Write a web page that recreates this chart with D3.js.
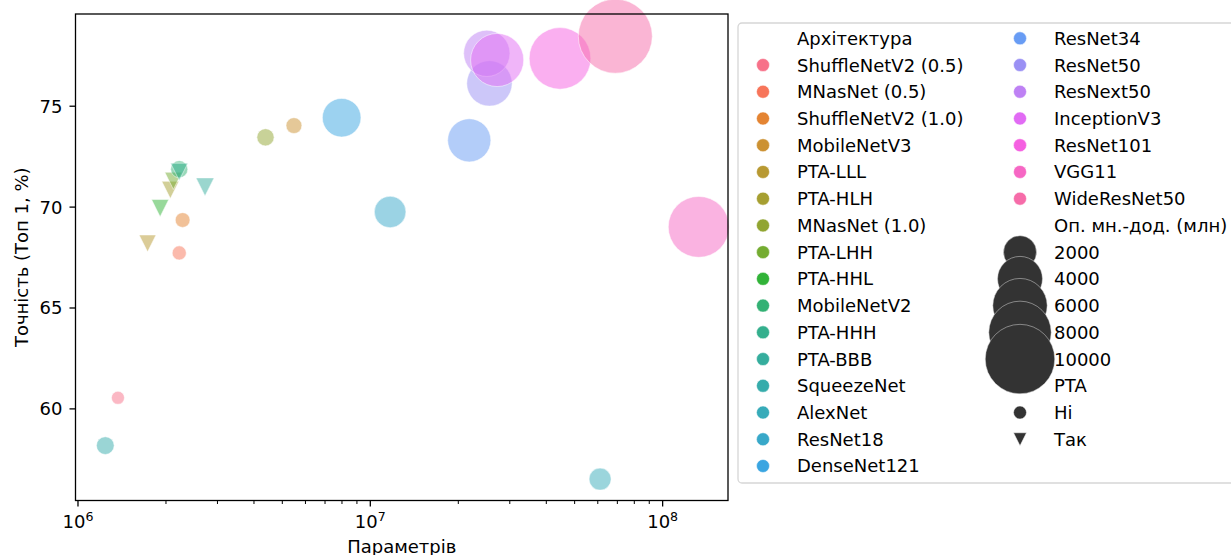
<!DOCTYPE html>
<html>
<head>
<meta charset="utf-8">
<script src="https://cdn.jsdelivr.net/npm/d3@7"></script>
<style>
  body { margin: 0; background: #fff; }
  svg { display: block; font-family: "DejaVu Sans", sans-serif; }
</style>
</head>
<body>
<script>
// architectures, in the order seaborn met them (hue order)
const names = ["ShuffleNetV2 (0.5)", "MNasNet (0.5)", "ShuffleNetV2 (1.0)", "MobileNetV3",
  "PTA-LLL", "PTA-HLH", "MNasNet (1.0)", "PTA-LHH", "PTA-HHL", "MobileNetV2", "PTA-HHH",
  "PTA-BBB", "SqueezeNet", "AlexNet", "ResNet18", "DenseNet121", "ResNet34", "ResNet50",
  "ResNext50", "InceptionV3", "ResNet101", "VGG11", "WideResNet50"];
const params = [1.37e6, 2.22e6, 2.28e6, 5.48e6, 1.73e6, 2.07e6, 4.38e6, 2.12e6, 1.91e6, 2.22e6,
  2.22e6, 2.72e6, 1.24e6, 61.1e6, 11.69e6, 7.98e6, 21.8e6, 25.56e6, 25.03e6, 27.16e6, 44.55e6,
  132.86e6, 68.88e6];
const accuracy = [60.55, 67.73, 69.36, 74.04, 68.2, 70.85, 73.46, 71.3, 69.95, 71.88, 71.75,
  71.0, 58.18, 56.52, 69.76, 74.43, 73.31, 76.13, 77.62, 77.29, 77.37, 69.02, 78.47];
const macs = [41, 104, 146, 217, 290, 310, 312, 310, 310, 300, 320, 380, 350, 714, 1814, 2865,
  3664, 4089, 4260, 5713, 7801, 7609, 11398];
const isPTA = names.map(n => n.startsWith("PTA"));

const sizeTicks = [2000, 4000, 6000, 8000, 10000];
const styleLabels = ["Ні", "Так"];
const xTicks = [6, 7, 8];
const yTicks = [60, 65, 70, 75];

// husl palette, like seaborn's husl_palette(n, h=.01, s=.9, l=.65)
const M = [[3.240969941904521, -1.537383177570093, -0.498610760293],
           [-0.96924363628087, 1.87596750150772, 0.041555057407175],
           [0.055630079696993, -0.20397695888897, 1.056971514242878]];
const refU = 0.19783000664283, refV = 0.46831999493879, kappa = 903.2962962, eps = 0.0088564516;
function bounds(L) {
  const res = [];
  const sub1 = Math.pow(L + 16, 3) / 1560896, sub2 = sub1 > eps ? sub1 : L / kappa;
  for (const [m1, m2, m3] of M) {
    for (const t of [0, 1]) {
      const top1 = (284517 * m1 - 94839 * m3) * sub2;
      const top2 = (838422 * m3 + 769860 * m2 + 731718 * m1) * L * sub2 - 769860 * t * L;
      const bottom = (632260 * m3 - 126452 * m2) * sub2 + 126452 * t;
      res.push([top1 / bottom, top2 / bottom]);
    }
  }
  return res;
}
function husl(H, S, L) {
  const h = H / 360 * 2 * Math.PI;
  let max = Infinity;
  bounds(L).forEach(([s, i]) => {
    const len = i / (Math.sin(h) - s * Math.cos(h));
    if (len >= 0) max = Math.min(max, len);
  });
  const C = max / 100 * S, U = Math.cos(h) * C, V = Math.sin(h) * C;
  const Y = L <= 8 ? L / kappa : Math.pow((L + 16) / 116, 3);
  const vU = U / (13 * L) + refU, vV = V / (13 * L) + refV;
  const X = -(9 * Y * vU) / ((vU - 4) * vV - vU * vV);
  const Z = (9 * Y - 15 * vV * Y - vV * X) / (3 * vV);
  const f = c => c <= 0.0031308 ? 12.92 * c : 1.055 * Math.pow(c, 1 / 2.4) - 0.055;
  const rgb = M.map(r => Math.max(0, Math.min(1, f(r[0] * X + r[1] * Y + r[2] * Z))) * 255);
  return d3.rgb(...rgb).formatHex();
}
const palette = names.map((d, i) => husl(((i / names.length + 0.01) % 1) * 359, 89.1, 64.35));
const color = d3.scaleOrdinal().domain(names).range(palette);

const W = 1231, H = 555;
const plot = {left: 75.5, right: 728, top: 14, bottom: 500.5};
const fontSize = 18, alpha = 0.5;

const svg = d3.select("body").append("svg").attr("width", W).attr("height", H);

const x = d3.scaleLog().domain([Math.pow(10, 5.9915), Math.pow(10, 8.2236)]).range([plot.left, plot.right]);
const y = d3.scaleLinear().domain([55.46, 79.57]).range([plot.bottom, plot.top]);
// marker area (px^2) linear in MACs, as seaborn's size mapping
const area = d3.scaleLinear().domain(d3.extent(macs)).range([169, 5476]);

const data = names.map((n, i) => ({name: n, p: params[i], acc: accuracy[i], m: macs[i], pta: isPTA[i]}));

function triPath(d) {
  // matplotlib "v": width = height = sqrt(area), centred on bbox
  const h = d / 2;
  return `M${-h},${-h}L${h},${-h}L0,${h}Z`;
}

// points
const pts = svg.append("g");
data.forEach(d => {
  const s = Math.sqrt(area(d.m));
  const g = pts.append("g").attr("transform", `translate(${x(d.p)},${y(d.acc)})`);
  const mark = d.pta ? g.append("path").attr("d", triPath(s)) : g.append("circle").attr("r", s / 2);
  mark.attr("fill", color(d.name)).attr("fill-opacity", alpha)
    .attr("stroke", "#fff").attr("stroke-opacity", alpha).attr("stroke-width", 1);
});

// axes frame
svg.append("rect")
  .attr("x", plot.left).attr("y", plot.top)
  .attr("width", plot.right - plot.left).attr("height", plot.bottom - plot.top)
  .attr("fill", "none").attr("stroke", "#000").attr("stroke-width", 1.3);

// x ticks
const minor = [];
[5, 6, 7, 8].forEach(e => d3.range(2, 10).forEach(k => {
  const v = k * Math.pow(10, e);
  if (v > x.domain()[0] && v < x.domain()[1]) minor.push(v);
}));
svg.append("g").selectAll("line").data(minor).join("line")
  .attr("x1", d => x(d)).attr("x2", d => x(d))
  .attr("y1", plot.bottom).attr("y2", plot.bottom + 3.5)
  .attr("stroke", "#000").attr("stroke-width", 1);
const xt = svg.append("g").selectAll("g").data(xTicks).join("g")
  .attr("transform", d => `translate(${x(Math.pow(10, d))},${plot.bottom})`);
xt.append("line").attr("y2", 6).attr("stroke", "#000").attr("stroke-width", 1.3);
const xl = xt.append("text").attr("y", 27.5).attr("text-anchor", "middle")
  .style("font-size", fontSize + "px").attr("fill", "#000");
xl.append("tspan").text("10");
xl.append("tspan").attr("dy", -7).style("font-size", "12.6px").text(d => d);

// y ticks
const yt = svg.append("g").selectAll("g").data(yTicks).join("g")
  .attr("transform", d => `translate(${plot.left},${y(d)})`);
yt.append("line").attr("x2", -6).attr("stroke", "#000").attr("stroke-width", 1.3);
yt.append("text").attr("x", -13).attr("dy", "0.36em").attr("text-anchor", "end")
  .style("font-size", fontSize + "px").attr("fill", "#000").text(d => d);

// axis labels
svg.append("text").attr("x", (plot.left + plot.right) / 2).attr("y", 552.5)
  .attr("text-anchor", "middle").style("font-size", fontSize + "px").text("Параметрів");
svg.append("text").attr("transform", `translate(27.5,${(plot.top + plot.bottom) / 2}) rotate(-90)`)
  .attr("text-anchor", "middle").style("font-size", fontSize + "px").text("Точність (Топ 1, %)");

// legend
const leg = {left: 738, top: 23, bottom: 483, row0: 38.3, rowH: 26.73,
             col: [{mark: 763, text: 797}, {mark: 1020, text: 1054}]};
svg.append("rect")
  .attr("x", leg.left).attr("y", leg.top).attr("width", W - leg.left + 20)
  .attr("height", leg.bottom - leg.top).attr("rx", 4)
  .attr("fill", "#fff").attr("fill-opacity", 0.8)
  .attr("stroke", "#d6d6d6").attr("stroke-width", 1.3);

const entries = [{label: "Архітектура", kind: "title"}]
  .concat(names.map(n => ({label: n, kind: "hue"})))
  .concat([{label: "Оп. мн.-дод. (млн)", kind: "title"}])
  .concat(sizeTicks.map(v => ({label: String(v), kind: "size", v: v})))
  .concat([{label: "PTA", kind: "title"}])
  .concat(styleLabels.map((l, i) => ({label: l, kind: "style", tri: i === 1})));
const perCol = Math.ceil(entries.length / 2);
entries.forEach((e, i) => {
  e.c = Math.floor(i / perCol);
  e.r = i % perCol;
});

const lg = svg.append("g");
// markers first, so the text stays on top
entries.forEach(e => {
  const cx = leg.col[e.c].mark, cy = leg.row0 + e.r * leg.rowH;
  if (e.kind === "hue") {
    lg.append("circle").attr("cx", cx).attr("cy", cy).attr("r", 6.5)
      .attr("fill", color(e.label)).attr("stroke", "#fff").attr("stroke-width", 0.5);
  } else if (e.kind === "size") {
    lg.append("circle").attr("cx", cx).attr("cy", cy).attr("r", Math.sqrt(area(e.v)) / 2)
      .attr("fill", "#333").attr("stroke", "#ddd").attr("stroke-width", 0.5);
  } else if (e.kind === "style") {
    if (e.tri) {
      lg.append("path").attr("transform", `translate(${cx},${cy})`).attr("d", triPath(13))
        .attr("fill", "#333").attr("stroke", "#fff").attr("stroke-width", 0.5);
    } else {
      lg.append("circle").attr("cx", cx).attr("cy", cy).attr("r", 6.5)
        .attr("fill", "#333").attr("stroke", "#fff").attr("stroke-width", 0.5);
    }
  }
});
entries.forEach(e => {
  lg.append("text").attr("x", leg.col[e.c].text).attr("y", leg.row0 + e.r * leg.rowH)
    .attr("dy", "0.36em").style("font-size", fontSize + "px").attr("fill", "#000")
    .text(e.label);
});
</script>
</body>
</html>
